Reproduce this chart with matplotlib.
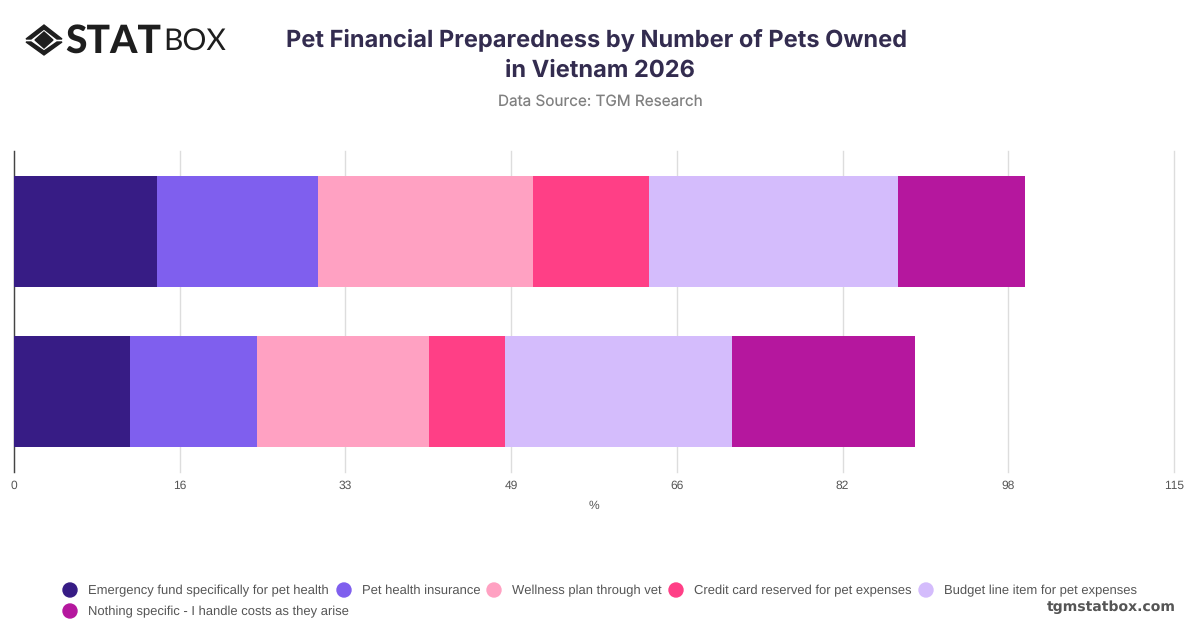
import matplotlib
matplotlib.use("Agg")
import matplotlib.pyplot as plt
from matplotlib.patches import Polygon, Circle

plt.rcParams["text.hinting"] = "no_hinting"
plt.rcParams["text.hinting_factor"] = 1

W, H = 1200, 628

# data
groups = ["1 pet", "2+ pets"]
emergency = [14.2, 11.5]
insurance = [15.9, 12.6]
wellness = [21.4, 17.0]
credit = [11.5, 7.6]
budget = [24.6, 22.5]
nothing = [12.6, 18.1]
series = [emergency, insurance, wellness, credit, budget, nothing]
labels = ["Emergency fund specifically for pet health", "Pet health insurance",
          "Wellness plan through vet", "Credit card reserved for pet expenses",
          "Budget line item for pet expenses", "Nothing specific - I handle costs as they arise"]
colors = ["#371C85", "#7F5FEE", "#FFA1C2", "#FF3F86", "#D4BCFC", "#B5179E"]
tick_vals = [0, 16.43, 32.86, 49.29, 65.71, 82.14, 98.57, 115]
tick_labels = ["0", "16", "33", "49", "66", "82", "98", "115"]

fig = plt.figure(figsize=(12, 6.28), dpi=100)
ax = fig.add_axes([14 / W, 1 - 472 / H, 1160 / W, 321 / H])

left = [0, 0]
for vals, lab, col in zip(series, labels, colors):
    ax.barh(groups, vals, left=left, height=0.69, color=col, label=lab, zorder=3)
    left = [a + b for a, b in zip(left, vals)]

ax.set_xlim(0, 115)
ax.set_ylim(1.5, -0.5)
ax.set_xticks(tick_vals)
ax.set_xticklabels(tick_labels, fontsize=8.3, color="#555555", family="Liberation Sans")
ax.set_yticks([])
ax.tick_params(axis="x", length=0, pad=6)
ax.grid(axis="x", color="#DDDDDD", linewidth=1, zorder=0, clip_on=False)
ax.set_axisbelow(True)
for s in ["top", "right", "bottom"]:
    ax.spines[s].set_visible(False)
ax.spines["left"].set_color("#444444")
ax.spines["left"].set_linewidth(1)
ax.set_xlabel("%", fontsize=8.3, color="#555555", family="Liberation Sans")
ax.xaxis.set_label_coords(580 / 1160, -28 / 321)


def fx(x):
    return x / W


def fy(y):
    return 1 - y / H


# title
fig.text(fx(597), fy(40), "Pet Financial Preparedness by Number of Pets Owned", ha="center", va="center",
         fontsize=17, fontweight="bold", family="Inter", color="#332C4F")
fig.text(fx(600), fy(71), "in Vietnam 2026", ha="center", va="center",
         fontsize=17, fontweight="bold", family="Inter", color="#332C4F")
fig.text(fx(600), fy(102), "Data Source: TGM Research", ha="center", va="center",
         fontsize=11, family="Inter", color="#808080")

# logo
dark = "#1E1E1E"
cx, cy = 44, 40
fig.add_artist(Polygon([(fx(cx - 9), fy(cy)), (fx(cx), fy(cy - 8)), (fx(cx + 9), fy(cy)), (fx(cx), fy(cy + 8))],
                       closed=True, color=dark, transform=fig.transFigure))
fig.add_artist(Polygon([(fx(cx - 18), fy(cy - 1)), (fx(cx), fy(cy - 15)), (fx(cx + 18), fy(cy - 1)),
                        (fx(cx + 13), fy(cy - 1)), (fx(cx), fy(cy - 11)), (fx(cx - 13), fy(cy - 1))],
                       closed=True, color=dark, transform=fig.transFigure))
fig.add_artist(Polygon([(fx(cx - 18), fy(cy + 2)), (fx(cx), fy(cy + 15)), (fx(cx + 18), fy(cy + 2)),
                        (fx(cx + 13), fy(cy + 2)), (fx(cx), fy(cy + 11)), (fx(cx - 13), fy(cy + 2))],
                       closed=True, color=dark, transform=fig.transFigure))
fig.text(fx(65), fy(41), "STAT", ha="left", va="center", fontsize=28, fontweight="black",
         family="Lato", color=dark)
fig.text(fx(163), fy(41), "BOX", ha="left", va="center", fontsize=21.5, family="Lato", color=dark)

# legend, wrapped over two rows like the original
legend_pos = [(70, 590), (344, 590), (494, 590), (676, 590), (926, 590), (70, 611)]
for (x, y), lab, col in zip(legend_pos, labels, colors):
    fig.add_artist(Circle((x, H - y), 7, color=col, transform=None))
    fig.text(fx(x + 18), fy(y + 0.5), lab, ha="left", va="center", fontsize=9.4,
             family="Liberation Sans", color="#555555")

fig.text(fx(1176), fy(607), "tgmstatbox.com", ha="right", va="center", fontsize=10,
         fontweight="bold", family="DejaVu Sans", color="#555555")

fig.savefig("out.png", dpi=100)
